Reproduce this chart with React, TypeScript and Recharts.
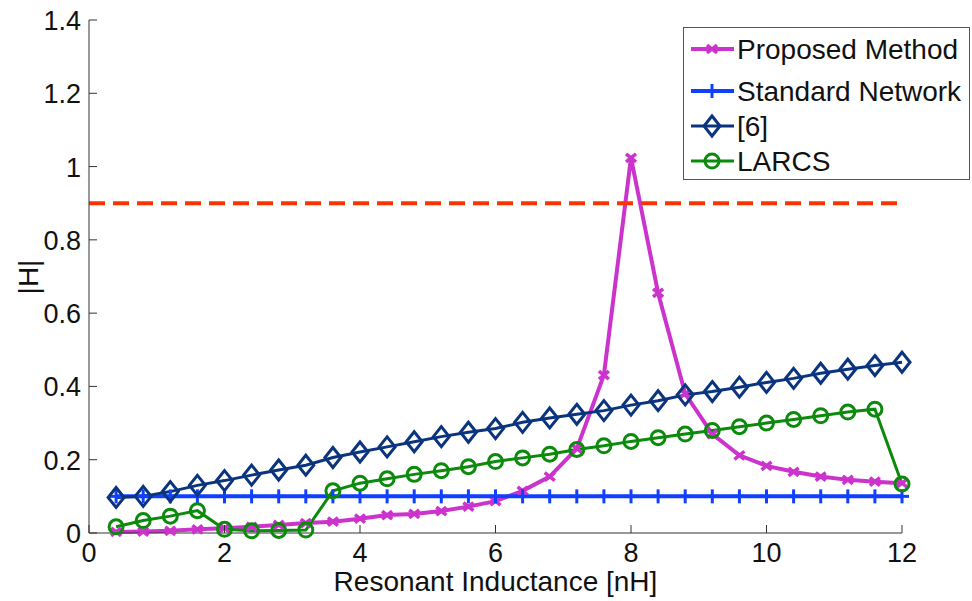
import React from "react";
import { LineChart, Line, XAxis, YAxis, ReferenceLine } from "recharts";

const xs = [0.4, 0.8, 1.2, 1.6, 2.0, 2.4, 2.8, 3.2, 3.6, 4.0, 4.4, 4.8, 5.2, 5.6, 6.0, 6.4, 6.8, 7.2, 7.6, 8.0, 8.4, 8.8, 9.2, 9.6, 10.0, 10.4, 10.8, 11.2, 11.6, 12.0];
const proposed = [0.003, 0.004, 0.006, 0.01, 0.013, 0.017, 0.022, 0.027, 0.031, 0.039, 0.049, 0.052, 0.06, 0.072, 0.087, 0.115, 0.154, 0.23, 0.431, 1.024, 0.655, 0.38, 0.27, 0.212, 0.183, 0.167, 0.154, 0.145, 0.14, 0.136];
const standard = [0.1, 0.1, 0.1, 0.1, 0.1, 0.1, 0.1, 0.1, 0.1, 0.1, 0.1, 0.1, 0.1, 0.1, 0.1, 0.1, 0.1, 0.1, 0.1, 0.1, 0.1, 0.1, 0.1, 0.1, 0.1, 0.1, 0.1, 0.1, 0.1, 0.1];
const ref6 = [0.097, 0.1, 0.113, 0.13, 0.143, 0.158, 0.172, 0.185, 0.206, 0.221, 0.235, 0.249, 0.263, 0.275, 0.285, 0.302, 0.314, 0.324, 0.334, 0.349, 0.361, 0.377, 0.386, 0.398, 0.411, 0.422, 0.436, 0.447, 0.457, 0.466];
const larcs = [0.017, 0.034, 0.046, 0.061, 0.01, 0.006, 0.007, 0.008, 0.115, 0.136, 0.148, 0.16, 0.17, 0.181, 0.195, 0.205, 0.215, 0.228, 0.238, 0.25, 0.26, 0.27, 0.28, 0.29, 0.3, 0.31, 0.32, 0.33, 0.338, 0.134];
const threshold = 0.9;

const xTicks = [0, 2, 4, 6, 8, 10, 12];
const yTicks = [0, 0.2, 0.4, 0.6, 0.8, 1, 1.2, 1.4];

const data = xs.map((x, i) => ({ x, proposed: proposed[i], standard: standard[i], ref6: ref6[i], larcs: larcs[i] }));

const FONT = "'Liberation Sans', Arial, sans-serif";
const C_PROP = "#cc33cc";
const C_STD = "#1040ff";
const C_REF6 = "#0b347f";
const C_LARCS = "#0b8a0b";
const C_RED = "#ff3300";

type Kind = "x" | "plus" | "diamond" | "circle";

function Marker({ kind, cx, cy, color }: { kind: Kind; cx: number; cy: number; color: string }) {
  if (kind === "x") {
    return (
      <g stroke={color} strokeWidth={3.5}>
        <line x1={cx - 5} y1={cy - 4} x2={cx + 5} y2={cy + 4} />
        <line x1={cx - 5} y1={cy + 4} x2={cx + 5} y2={cy - 4} />
      </g>
    );
  }
  if (kind === "plus") {
    return (
      <g stroke={color} strokeWidth={3}>
        <line x1={cx} y1={cy - 7} x2={cx} y2={cy + 7} />
        <line x1={cx - 7} y1={cy} x2={cx + 7} y2={cy} />
      </g>
    );
  }
  if (kind === "diamond") {
    return <polygon points={`${cx},${cy - 10} ${cx + 8},${cy} ${cx},${cy + 10} ${cx - 8},${cy}`} fill="none" stroke={color} strokeWidth={3} />;
  }
  return <circle cx={cx} cy={cy} r={7} fill="none" stroke={color} strokeWidth={3} />;
}

const dotFor = (kind: Kind, color: string, name: string) => (p: any) => (
  <Marker key={`${name}-${p.index}`} kind={kind} cx={p.cx} cy={p.cy} color={color} />
);

const XTick = (props: any) => {
  const { x, y, payload } = props;
  return (
    <g>
      <line x1={x} y1={y} x2={x} y2={y - 8} stroke="#333" />
      <text x={x} y={y + 29} textAnchor="middle" fontSize={27} fill="#111" fontFamily={FONT}>{payload.value}</text>
    </g>
  );
};

const YTick = (props: any) => {
  const { x, y, payload } = props;
  return (
    <g>
      <line x1={x} y1={y} x2={x + 8} y2={y} stroke="#333" />
      <text x={x - 8} y={y + 10} textAnchor="end" fontSize={27} fill="#111" fontFamily={FONT}>{payload.value}</text>
    </g>
  );
};

const legendItems: { name: string; kind: Kind; color: string; width: number }[] = [
  { name: "Proposed Method", kind: "x", color: C_PROP, width: 4 },
  { name: "Standard Network", kind: "plus", color: C_STD, width: 4 },
  { name: "[6]", kind: "diamond", color: C_REF6, width: 3 },
  { name: "LARCS", kind: "circle", color: C_LARCS, width: 3 },
];
const legendRows = [21, 63, 98, 133];

export default function App() {
  return (
    <div style={{ position: "absolute", left: 0, top: 0, width: 972, height: 601, background: "#fff" }}>
      <LineChart width={972} height={601} data={data} margin={{ top: 20, right: 70, bottom: 0, left: 0 }}>
        <XAxis
          type="number"
          dataKey="x"
          domain={[0, 12]}
          ticks={xTicks}
          height={68}
          tickSize={0}
          tickMargin={0}
          tick={<XTick />}
          stroke="#333"
          label={{ value: "Resonant Inductance [nH]", position: "insideBottom", offset: 10, fontSize: 28, fill: "#111", fontFamily: FONT }}
        />
        <YAxis
          type="number"
          domain={[0, 1.4]}
          ticks={yTicks}
          width={89}
          tickSize={0}
          tickMargin={0}
          tick={<YTick />}
          stroke="#333"
          label={{
            content: () => (
              <text x={28} y={277} transform="rotate(-90 28 277)" textAnchor="middle" dominantBaseline="central" fontSize={28} fill="#111" fontFamily={FONT}>
                |H|
              </text>
            ),
          }}
        />
        <Line dataKey="proposed" stroke={C_PROP} strokeWidth={4} dot={dotFor("x", C_PROP, "p")} isAnimationActive={false} />
        <Line dataKey="standard" stroke={C_STD} strokeWidth={4} dot={dotFor("plus", C_STD, "s")} isAnimationActive={false} />
        <Line dataKey="ref6" stroke={C_REF6} strokeWidth={3} dot={dotFor("diamond", C_REF6, "r")} isAnimationActive={false} />
        <Line dataKey="larcs" stroke={C_LARCS} strokeWidth={3} dot={dotFor("circle", C_LARCS, "l")} isAnimationActive={false} />
        <ReferenceLine y={threshold} stroke={C_RED} strokeWidth={4} strokeDasharray="16 8" />
      </LineChart>
      <div style={{ position: "absolute", left: 683, top: 27, width: 287, height: 153, border: "1px solid #555", background: "#fff", boxSizing: "border-box" }}>
        <svg width={287} height={153} style={{ display: "block" }}>
          {legendItems.map((it, i) => (
            <g key={it.name}>
              <line x1={7} y1={legendRows[i]} x2={50} y2={legendRows[i]} stroke={it.color} strokeWidth={it.width} />
              <Marker kind={it.kind} cx={28} cy={legendRows[i]} color={it.color} />
              <text x={53} y={legendRows[i] + 10} fontSize={28} fill="#111" fontFamily={FONT}>{it.name}</text>
            </g>
          ))}
        </svg>
      </div>
    </div>
  );
}
